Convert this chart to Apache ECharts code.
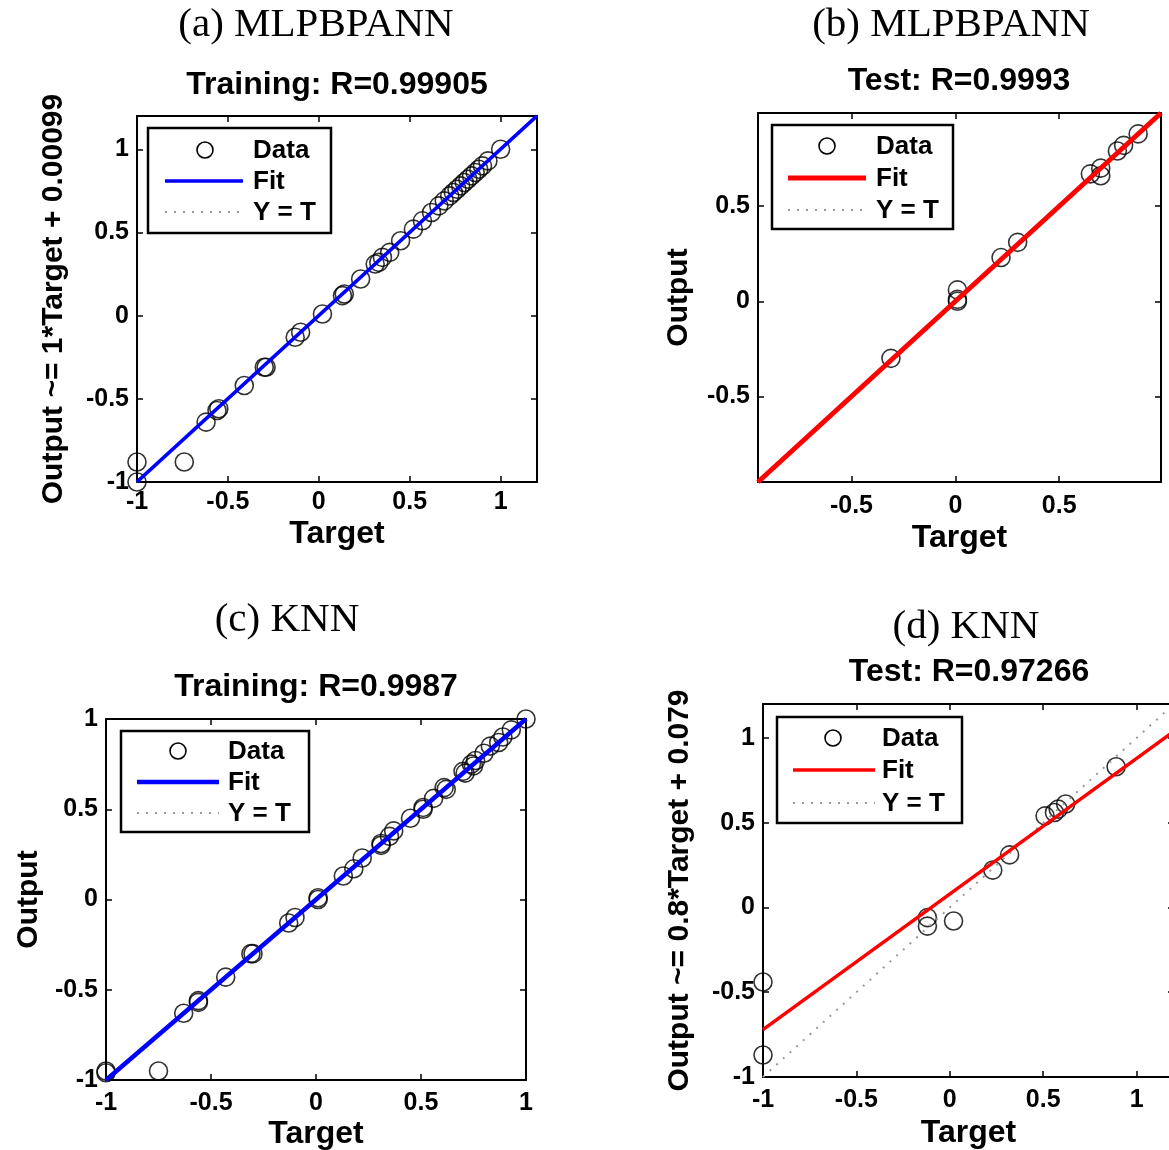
<!DOCTYPE html>
<html><head><meta charset="utf-8">
<script src="https://cdn.jsdelivr.net/npm/echarts@6/dist/echarts.min.js"></script>
<style>html,body{margin:0;padding:0;background:#fff}#c{width:1169px;height:1150px}</style>
</head><body><div id="c"></div>
<script>
// ---- data ----
const tickLabels = ['-1', '-0.5', '0', '0.5', '1'];
const panelHeadings = ['(a) MLPBPANN', '(b) MLPBPANN', '(c) KNN', '(d) KNN'];
const panelTitles = ['Training: R=0.99905', 'Test: R=0.9993', 'Training: R=0.9987', 'Test: R=0.97266'];
const yNames = ['Output ~= 1*Target + 0.00099', 'Output', 'Output', 'Output ~= 0.8*Target + 0.079'];
const legendNames = ['Data', 'Fit', 'Y = T'];

const aTarget = [-1, -1, -0.74, -0.62, -0.56, -0.55, -0.41, -0.30, -0.29, -0.13, -0.10, 0.02, 0.13, 0.14, 0.23, 0.31, 0.33, 0.35, 0.39, 0.45, 0.52, 0.57, 0.62, 0.66, 0.69, 0.72, 0.74, 0.76, 0.78, 0.80, 0.82, 0.84, 0.86, 0.88, 0.90, 0.93, 1.0];
const aOutput = [-0.88, -1, -0.88, -0.64, -0.57, -0.56, -0.42, -0.31, -0.31, -0.13, -0.10, 0.01, 0.12, 0.13, 0.22, 0.31, 0.32, 0.35, 0.38, 0.45, 0.52, 0.57, 0.62, 0.66, 0.69, 0.72, 0.74, 0.76, 0.78, 0.80, 0.82, 0.84, 0.86, 0.88, 0.90, 0.93, 1.0];

const bTarget = [-0.31, 0.01, 0.01, 0.01, 0.22, 0.30, 0.65, 0.70, 0.70, 0.78, 0.81, 0.88];
const bOutput = [-0.30, 0.06, 0.01, 0.00, 0.23, 0.31, 0.67, 0.70, 0.66, 0.79, 0.82, 0.88];

const cTarget = [-1, -1, -0.75, -0.63, -0.56, -0.56, -0.43, -0.31, -0.30, -0.13, -0.10, 0.01, 0.01, 0.13, 0.18, 0.22, 0.31, 0.31, 0.35, 0.37, 0.45, 0.51, 0.51, 0.56, 0.61, 0.62, 0.70, 0.71, 0.74, 0.75, 0.76, 0.80, 0.83, 0.87, 0.89, 0.93, 1.0];
const cOutput = [-0.96, -0.95, -0.95, -0.63, -0.57, -0.56, -0.43, -0.30, -0.30, -0.13, -0.10, 0.01, 0.00, 0.13, 0.17, 0.23, 0.31, 0.30, 0.35, 0.38, 0.45, 0.51, 0.50, 0.56, 0.62, 0.61, 0.71, 0.70, 0.75, 0.74, 0.77, 0.81, 0.85, 0.87, 0.90, 0.94, 1.0];

const dTarget = [-1, -1, -0.12, -0.12, 0.02, 0.23, 0.32, 0.51, 0.56, 0.58, 0.62, 0.89];
const dOutput = [-0.44, -0.87, -0.06, -0.11, -0.08, 0.22, 0.31, 0.54, 0.56, 0.58, 0.61, 0.83];

const fitSlope = [1, 1, 1, 0.8];
const fitIntercept = [0.00099, 0.0, 0.0, 0.079];
const axisRange = [[-1, 1.2], [-0.95, 0.99], [-1, 1], [-1, 1.2]];

// ---- layout / style ----
const SANS = '"Liberation Sans", Arial, sans-serif';
const SERIF = '"Liberation Serif", "Times New Roman", serif';
const fitColors = ['#0000ff', '#ff0000', '#0000ff', '#ff0000'];
const fitWidths = [3.5, 5, 4.5, 3.5];
const grids = [
  {left: 137, top: 116, width: 400, height: 366, outerBoundsMode: 'none', containLabel: false},
  {left: 758, top: 113, width: 403, height: 369, outerBoundsMode: 'none', containLabel: false},
  {left: 106, top: 719, width: 420, height: 361, outerBoundsMode: 'none', containLabel: false},
  {left: 763, top: 704, width: 411, height: 373, outerBoundsMode: 'none', containLabel: false}
];
const headPos = [[316, 25], [951, 25], [287, 620], [966, 627]];
const titlePos = [[337, 85], [959, 81], [316, 687], [969, 672]];
const xNameGap = [36, 40, 38, 40];
const yNameGap = [68, 64, 62, 68];
const xLabelMargin = [8, 12, 11, 11];
const legendBoxes = [
  {x: 148, y: 128, w: 183, h: 105, cx: 205, l1: 165, l2: 243, tx: 253, ys: [150, 181, 212]},
  {x: 772, y: 125, w: 181, h: 104, cx: 827, l1: 788, l2: 866, tx: 876, ys: [146, 178, 210]},
  {x: 121, y: 731, w: 188, h: 101, cx: 178, l1: 137, l2: 219, tx: 228, ys: [751, 782, 813]},
  {x: 777, y: 717, w: 185, h: 106, cx: 833, l1: 793, l2: 875, tx: 882, ys: [738, 770, 803]}
];

const targets = [aTarget, bTarget, cTarget, dTarget];
const outputs = [aOutput, bOutput, cOutput, dOutput];

function labelFmt(v) {
  const s = String(Math.round(v * 1000) / 1000);
  return tickLabels.indexOf(s) >= 0 ? s : '';
}

const xAxes = [], yAxes = [], series = [], graphics = [];
for (let i = 0; i < 4; i++) {
  const [mn, mx] = axisRange[i];
  const intervalOpt = (Math.abs(mn / 0.5 - Math.round(mn / 0.5)) < 1e-9)
    ? {interval: 0.5}
    : {minInterval: 0.5, maxInterval: 0.5, splitNumber: 4};
  const common = Object.assign({
    type: 'value', gridIndex: i, min: mn, max: mx,
    splitLine: {show: false},
    axisLine: {show: true, onZero: false, lineStyle: {color: '#000', width: 2}},
    axisTick: {show: true, inside: true, length: 6, lineStyle: {color: '#000', width: 1.5}}
  }, intervalOpt);
  xAxes.push(Object.assign({}, common, {
    position: 'bottom',
    axisLabel: {formatter: labelFmt, color: '#000', fontFamily: SANS, fontWeight: 'bold', fontSize: 25, margin: xLabelMargin[i], showMinLabel: true, showMaxLabel: true, hideOverlap: false},
    name: 'Target', nameLocation: 'middle', nameGap: xNameGap[i],
    nameTextStyle: {color: '#000', fontFamily: SANS, fontWeight: 'bold', fontSize: 32}
  }));
  xAxes.push(Object.assign({}, common, {position: 'top', axisLabel: {show: false}}));
  yAxes.push(Object.assign({}, common, {
    position: 'left',
    axisLabel: {formatter: labelFmt, color: '#000', fontFamily: SANS, fontWeight: 'bold', fontSize: 25, margin: 8, showMinLabel: true, showMaxLabel: true, hideOverlap: false},
    name: yNames[i], nameLocation: 'middle', nameGap: yNameGap[i], nameRotate: 90,
    nameTextStyle: {color: '#000', fontFamily: SANS, fontWeight: 'bold', fontSize: 30}
  }));
  yAxes.push(Object.assign({}, common, {position: 'right', axisLabel: {show: false}}));

  const data = targets[i].map((t, k) => [t, outputs[i][k]]);
  series.push({
    name: legendNames[0], type: 'scatter', xAxisIndex: 2 * i, yAxisIndex: 2 * i,
    data: data, symbol: 'circle', symbolSize: 18, clip: false, silent: true, z: 2,
    itemStyle: {color: 'rgba(0,0,0,0)', borderColor: '#000', borderWidth: 1.6},
    emphasis: {disabled: true}
  });
  series.push({
    name: legendNames[2], type: 'line', xAxisIndex: 2 * i, yAxisIndex: 2 * i,
    data: [[mn, mn], [mx, mx]], symbol: 'none', clip: true, silent: true, z: 3,
    lineStyle: {color: '#9a9a9a', width: 2, type: [2, 7]}, animation: false
  });
  const m = fitSlope[i], b = fitIntercept[i];
  series.push({
    name: legendNames[1], type: 'line', xAxisIndex: 2 * i, yAxisIndex: 2 * i,
    data: [[mn, m * mn + b], [mx, m * mx + b]], symbol: 'none', clip: true, silent: true, z: 4,
    lineStyle: {color: fitColors[i], width: fitWidths[i]}, animation: false
  });

  // headings
  graphics.push({type: 'text', x: headPos[i][0], y: headPos[i][1], z: 100,
    style: {text: panelHeadings[i], font: '41px ' + SERIF, fill: '#000', align: 'center', verticalAlign: 'middle', textAlign: 'center', textVerticalAlign: 'middle'}});
  graphics.push({type: 'text', x: titlePos[i][0], y: titlePos[i][1], z: 100,
    style: {text: panelTitles[i], font: 'bold 32px ' + SANS, fill: '#000', align: 'center', verticalAlign: 'middle', textAlign: 'center', textVerticalAlign: 'middle'}});
  // legend box
  const L = legendBoxes[i];
  graphics.push({type: 'rect', z: 100, shape: {x: L.x, y: L.y, width: L.w, height: L.h},
    style: {fill: '#fff', stroke: '#000', lineWidth: 2.5}});
  graphics.push({type: 'circle', z: 101, shape: {cx: L.cx, cy: L.ys[0], r: 8},
    style: {fill: 'none', stroke: '#000', lineWidth: 1.6}});
  graphics.push({type: 'line', z: 101, shape: {x1: L.l1, y1: L.ys[1], x2: L.l2, y2: L.ys[1]},
    style: {stroke: fitColors[i], lineWidth: fitWidths[i]}});
  graphics.push({type: 'line', z: 101, shape: {x1: L.l1, y1: L.ys[2], x2: L.l2, y2: L.ys[2]},
    style: {stroke: '#9a9a9a', lineWidth: 2, lineDash: [2, 7]}});
  legendNames.forEach((nm, k) => {
    graphics.push({type: 'text', z: 101, x: L.tx, y: L.ys[k] + 1,
      style: {text: nm, font: 'bold 26px ' + SANS, fill: '#000', align: 'left', verticalAlign: 'middle', textAlign: 'left', textVerticalAlign: 'middle'}});
  });
}

const chart = echarts.init(document.getElementById('c'), null, {renderer: 'canvas'});
chart.setOption({
  backgroundColor: '#fff',
  animation: false,
  grid: grids,
  xAxis: xAxes,
  yAxis: yAxes,
  series: series,
  graphic: graphics
});
</script></body></html>
